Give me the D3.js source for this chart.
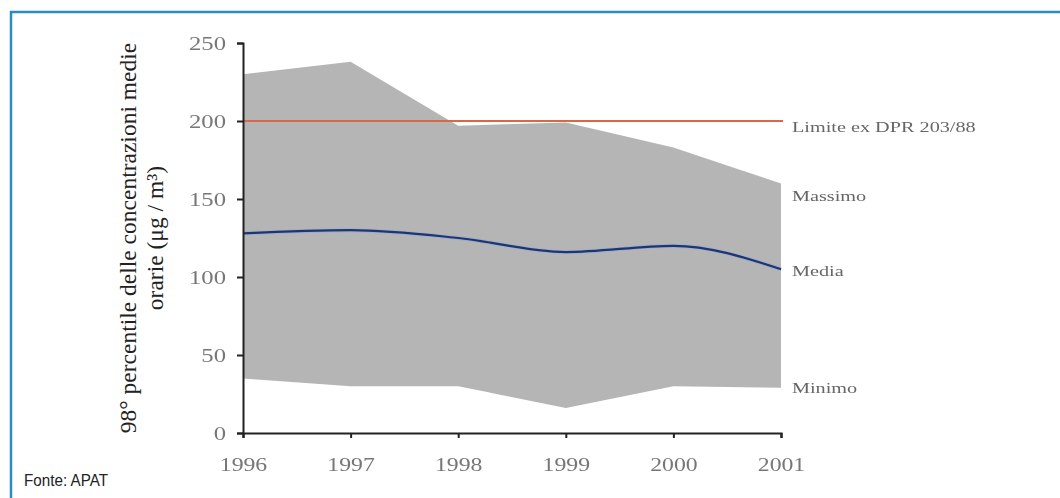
<!DOCTYPE html>
<html>
<head>
<meta charset="utf-8">
<script src="https://cdn.jsdelivr.net/npm/d3@7"></script>
<style>
  html, body { margin: 0; padding: 0; background: #ffffff; }
  svg { display: block; }
</style>
</head>
<body>
<svg id="chart" width="1060" height="498"></svg>
<script>
// Years on the horizontal axis
const years = [1996, 1997, 1998, 1999, 2000, 2001];
// 98th percentile of hourly averages (µg/m³)
const massimo = [230, 238, 197, 199, 183, 160];
const media   = [128, 130, 125, 116, 120, 105];
const minimo  = [35, 30, 30, 16, 30, 29];
// Threshold (ex DPR 203/88)
const limite = 200;
const yTicks = [0, 50, 100, 150, 200, 250];
const seriesLabels = ["Limite ex DPR 203/88", "Massimo", "Media", "Minimo"];
const axisTitle = ["98° percentile delle concentrazioni medie", "orarie (μg / m³)"];
const source = "Fonte: APAT";

const svg = d3.select("#chart");
const W = 1060, H = 498;

// Soft filter for the plotted graphic
const defs = svg.append("defs");
defs.append("filter").attr("id", "soft")
  .attr("x", "-5%").attr("y", "-5%").attr("width", "110%").attr("height", "110%")
  .append("feGaussianBlur").attr("stdDeviation", 0.55);

// Frame (top and left edges)
svg.append("line").attr("x1", 10).attr("x2", W).attr("y1", 12).attr("y2", 12)
  .attr("stroke", "#2b8cc0").attr("stroke-width", 2.5);
svg.append("line").attr("x1", 11).attr("x2", 11).attr("y1", 11).attr("y2", H)
  .attr("stroke", "#2b8cc0").attr("stroke-width", 2.5);

const x = d3.scalePoint().domain(years).range([243, 781]);
const y = d3.scaleLinear().domain([0, 250]).range([433, 43]);

const rows = years.map((yr, i) => ({ yr, max: massimo[i], mean: media[i], min: minimo[i] }));

const plot = svg.append("g").attr("filter", "url(#soft)");

// Min–max band
plot.append("path")
  .datum(rows)
  .attr("fill", "#b5b5b5")
  .attr("d", d3.area().x(d => x(d.yr)).y0(d => y(d.min)).y1(d => y(d.max)));

// Limit line
plot.append("line")
  .attr("x1", x(years[0])).attr("x2", x(years[years.length - 1]) + 2)
  .attr("y1", y(limite)).attr("y2", y(limite))
  .attr("stroke", "#d9684a").attr("stroke-width", 2.2);

// Mean line
const meanLine = d3.line().x(d => x(d.yr)).y(d => y(d.mean)).curve(d3.curveMonotoneX);
plot.append("path")
  .datum(rows)
  .attr("fill", "none")
  .attr("stroke", "#8fa6cf").attr("stroke-width", 4).attr("opacity", 0.5)
  .attr("d", meanLine);
plot.append("path")
  .datum(rows)
  .attr("fill", "none")
  .attr("stroke", "#1d3574").attr("stroke-width", 2.2)
  .attr("d", meanLine);

const tickColor = "#777";
const serif = "Liberation Serif, Times New Roman, serif";

// Y axis
const gy = plot.append("g").attr("transform", `translate(${x(years[0])},0)`)
  .call(d3.axisLeft(y).tickValues(yTicks).tickSize(6).tickPadding(11).tickFormat(d3.format("d")));
gy.select(".domain").attr("stroke", "#222").attr("stroke-width", 2);
gy.selectAll(".tick line").attr("stroke", "#222").attr("stroke-width", 2);
gy.selectAll(".tick text")
  .attr("font-family", serif)
  .attr("font-size", 19).attr("fill", tickColor)
  .attr("x", -17 / 1.3)
  .attr("transform", "scale(1.3,1)");

// X axis
const gx = plot.append("g").attr("transform", `translate(0,${y(0)})`)
  .call(d3.axisBottom(x).tickSize(5).tickPadding(20).tickFormat(d3.format("d")));
gx.select(".domain").attr("stroke", "#222").attr("stroke-width", 2.2);
gx.selectAll(".tick line").attr("stroke", "#222").attr("stroke-width", 2);
gx.selectAll(".tick text")
  .attr("font-family", serif)
  .attr("font-size", 19).attr("fill", tickColor)
  .attr("transform", "scale(1.25,1)");

// Series labels at the right end
const labelPos = [127, 196, 271, 388];
plot.append("g").selectAll("text")
  .data(seriesLabels)
  .join("text")
  .attr("transform", (d, i) => `translate(792,${labelPos[i]}) scale(1.35,1)`)
  .attr("dy", "0.35em")
  .attr("font-family", serif)
  .attr("font-size", 15)
  .attr("fill", "#666")
  .text(d => d);

// Y-axis title (two lines)
const title = svg.append("text")
  .attr("transform", "translate(136,238) rotate(-90)")
  .attr("text-anchor", "middle")
  .attr("font-family", serif)
  .attr("font-size", 23.5)
  .attr("fill", "#222");
title.append("tspan").attr("x", 0).attr("y", 0).text(axisTitle[0]);
title.append("tspan").attr("x", 0).attr("y", 27).text(axisTitle[1]);

// Source note
svg.append("text")
  .attr("x", 24).attr("y", 486)
  .attr("font-family", "Liberation Sans, Arial, sans-serif")
  .attr("font-size", 17)
  .attr("fill", "#222")
  .attr("textLength", 84).attr("lengthAdjust", "spacingAndGlyphs")
  .text(source);
</script>
</body>
</html>
